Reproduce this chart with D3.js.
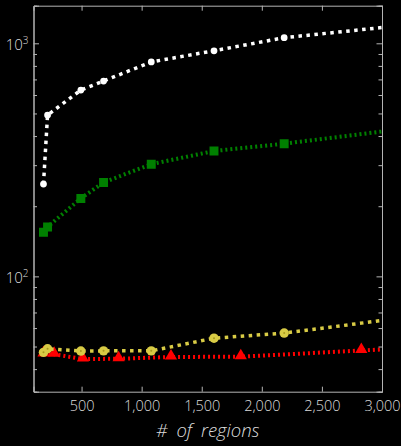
<!DOCTYPE html>
<html>
  <head>
        <meta charset="utf-8">
        <title>Regions</title>
        <script type="text/javascript" src="https://d3js.org/d3.v7.min.js"></script>
        <style type="text/css">
            body {
                margin: 0;
                background: #000;
            }
            .tick text {
                font-family: "Open Sans", sans-serif;
                font-weight: 300;
                fill: #dcdcdc;
            }
        </style>
  </head>
  <body>
    <div id="chart"></div>
    <script type="text/javascript">
        // data (last point lies past 3,000 and is clipped)
        var regionsA = [183, 217, 494, 683, 1080, 1602, 2186, 3250];
        var regionsB = [183, 272, 511, 808, 1244, 1825, 2828, 3250];
        var whiteValues = [249, 492, 630, 689, 832, 929, 1057, 1205];
        var greenValues = [154.5, 163, 216, 253, 303, 345, 371, 434];
        var yellowValues = [47.2, 48.9, 47.8, 47.9, 47.9, 54.3, 57.1, 67.2];
        var redValues = [46.5, 46.3, 44.2, 44.3, 45.1, 45.2, 48.1, 49.3];
        var xTicks = [500, 1000, 1500, 2000, 2500, 3000];
        var yMajor = [100, 1000];
        var yMinor = [40, 50, 60, 70, 80, 90, 200, 300, 400, 500, 600, 700, 800, 900];

        var width = 401;
        var height = 446;
        var margin = {top: 5.7, right: 19, bottom: 54.3, left: 33.5};

        var xScale = d3.scaleLinear()
            .domain([100, 3000])
            .range([margin.left, width - margin.right]);
        var yScale = d3.scaleLog()
            .domain([32, 1450])
            .range([height - margin.bottom, margin.top]);

        var svg = d3.select("#chart")
            .append("svg")
            .attr("width", width)
            .attr("height", height)
            .style("background", "#000");

        svg.append("clipPath")
            .attr("id", "clip")
            .append("rect")
            .attr("x", margin.left)
            .attr("y", margin.top)
            .attr("width", width - margin.right - margin.left)
            .attr("height", height - margin.bottom - margin.top);

        var series = [
            {xs: regionsB, ys: redValues, color: "#ff0000", lw: 4, dash: "2,3", marker: "triangle"},
            {xs: regionsA, ys: yellowValues, color: "#d8cb45", lw: 3.5, dash: "3.5,4.5", marker: "circle"},
            {xs: regionsA, ys: greenValues, color: "#008000", lw: 4, dash: "2,3", marker: "square"},
            {xs: regionsA, ys: whiteValues, color: "#ffffff", lw: 3.5, dash: "3.5,4.5", marker: "dot"}
        ];

        var plot = svg.append("g").attr("clip-path", "url(#clip)");

        series.forEach(function(s) {
            var pts = s.xs.map(function(x, i) { return [x, s.ys[i]]; });
            var line = d3.line()
                .x(function(d) { return xScale(d[0]); })
                .y(function(d) { return yScale(d[1]); });
            plot.append("path")
                .datum(pts)
                .attr("fill", "none")
                .attr("stroke", s.color)
                .attr("stroke-width", s.lw)
                .attr("stroke-dasharray", s.dash)
                .attr("d", line);

            var sym = d3.symbolCircle, size = 36;
            if (s.marker == "triangle") { sym = d3.symbolTriangle; size = 64; }
            if (s.marker == "circle") { sym = d3.symbolCircle; size = 70; }
            if (s.marker == "square") { sym = d3.symbolSquare; size = 80; }
            plot.selectAll(null)
                .data(pts)
                .enter()
                .append("path")
                .attr("d", d3.symbol().type(sym).size(size))
                .attr("fill", s.color)
                .attr("transform", function(d) {
                    var dy = s.marker == "triangle" ? -1 : 0;
                    return "translate(" + xScale(d[0]) + "," + (yScale(d[1]) + dy) + ")";
                });
            if (s.marker == "circle") {
                plot.selectAll(null)
                    .data(pts)
                    .enter()
                    .append("circle")
                    .attr("cx", function(d) { return xScale(d[0]); })
                    .attr("cy", function(d) { return yScale(d[1]); })
                    .attr("r", 1)
                    .attr("fill", "#a89a20");
            }
        });

        // axes with inward ticks
        var bottom = height - margin.bottom;
        var right = width - margin.right;
        var xAxis = d3.axisBottom(xScale).tickValues(xTicks).tickFormat(d3.format(",")).tickSize(-5).tickPadding(9);
        var xTop = d3.axisTop(xScale).tickValues(xTicks).tickFormat("").tickSize(-5);
        var gx = svg.append("g").attr("transform", "translate(0," + bottom + ")").call(xAxis);
        svg.append("g").attr("transform", "translate(0," + margin.top + ")").call(xTop);
        gx.selectAll("text").style("font-size", "14.5px");

        var yLeft = d3.axisLeft(yScale).tickValues(yMajor).tickFormat("").tickSize(-5.5);
        var yLeftMinor = d3.axisLeft(yScale).tickValues(yMinor).tickFormat("").tickSize(-3.5);
        var yRight = d3.axisRight(yScale).tickValues(yMajor).tickFormat("").tickSize(-5.5);
        var yRightMinor = d3.axisRight(yScale).tickValues(yMinor).tickFormat("").tickSize(-3.5);
        svg.append("g").attr("transform", "translate(" + margin.left + ",0)").call(yLeft);
        svg.append("g").attr("transform", "translate(" + margin.left + ",0)").call(yLeftMinor);
        svg.append("g").attr("transform", "translate(" + right + ",0)").call(yRight);
        svg.append("g").attr("transform", "translate(" + right + ",0)").call(yRightMinor);

        svg.selectAll(".domain").attr("stroke", "#b4b4b4");
        svg.selectAll(".tick line").attr("stroke", "#b4b4b4");

        // y labels 10^2, 10^3
        yMajor.forEach(function(v) {
            var t = svg.append("text")
                .attr("x", margin.left - 5)
                .attr("y", yScale(v) + 6.5)
                .attr("text-anchor", "end")
                .style("font-family", "'Open Sans', sans-serif")
                .style("font-weight", 300)
                .style("font-size", "15px")
                .attr("fill", "#dcdcdc");
            t.append("tspan").text("10");
            t.append("tspan").attr("dy", -6).style("font-size", "10px").text(Math.round(Math.log10(v)));
        });

        // x label
        svg.append("text")
            .attr("x", (margin.left + right) / 2)
            .attr("y", 437)
            .attr("text-anchor", "middle")
            .style("font-family", "'Open Sans', sans-serif")
            .style("font-style", "italic")
            .style("font-weight", 300)
            .style("font-size", "18.5px")
            .style("word-spacing", "4px")
            .attr("fill", "#dcdcdc")
            .text("# of regions");
    </script>
  </body>
</html>
